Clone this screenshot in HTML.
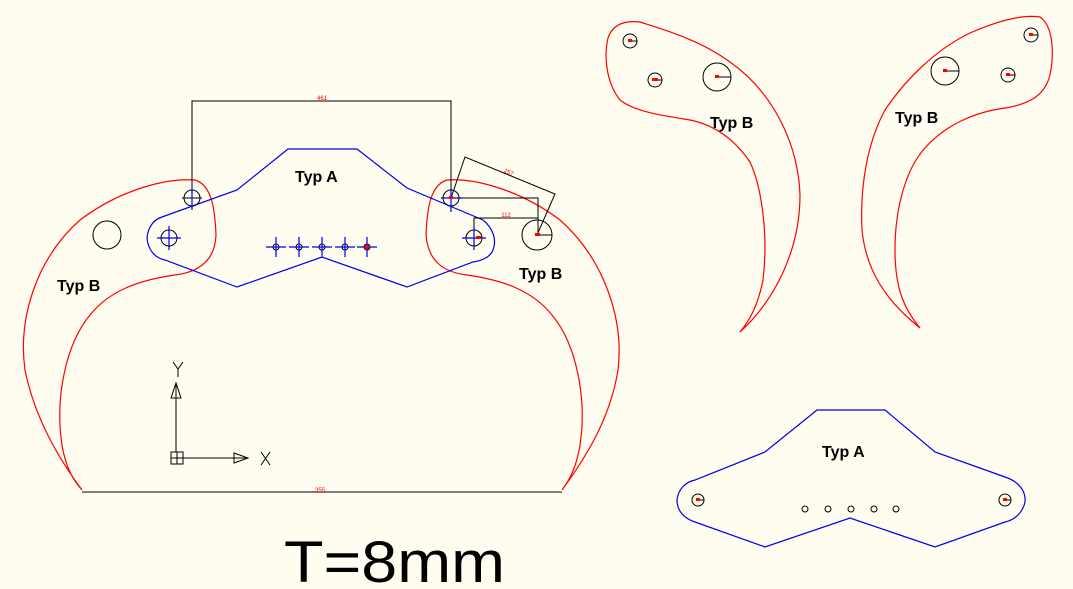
<!DOCTYPE html>
<html><head><style>html,body{margin:0;padding:0;background:#fffcf0;}svg{display:block}</style></head>
<body>
<svg width="1073" height="589" viewBox="0 0 1073 589" xmlns="http://www.w3.org/2000/svg" font-family="Liberation Sans, sans-serif">
<rect width="1073" height="589" fill="#fffcf0"/>
<g fill="none" stroke="#f00" stroke-width="1.2">
<path d="M82,490 C60,460 35,420 25,370 C18,320 35,260 80,220 C120,190 165,178 195,180 C212,185 215,210 216,235 C215,260 200,272 175,275 C140,280 110,290 90,315 C65,345 55,400 62,445 C66,470 75,482 82,490 Z"/>
<path d="M562,490 C584,460 610,420 618,370 C624,320 605,260 560,220 C520,190 475,178 447,180 C430,185 427,210 426,235 C428,260 442,272 467,275 C502,280 532,290 552,315 C577,345 587,400 580,445 C576,470 568,482 562,490 Z"/>
<path d="M740,332 C775,300 800,250 800,195 C798,140 770,90 730,62 C700,40 665,30 640,22 C622,20 612,26 608,38 C603,60 608,85 620,100 C635,112 665,116 690,120 C715,125 735,140 750,162 C763,190 768,240 763,280 C758,305 750,320 740,332 Z"/>
<path d="M920,328 C905,310 895,290 895,250 C895,210 905,170 925,148 C945,125 975,112 1005,108 C1030,104 1045,95 1050,75 C1055,50 1052,25 1040,17 C1020,14 995,22 970,33 C935,50 905,80 885,110 C866,145 860,190 862,230 C866,270 885,300 920,328 Z"/>
</g>
<g fill="none" stroke="#0000ee" stroke-width="1.2">
<path d="M288,149 L357,149 L407,188 L483,220 C493,228 497,240 493,250 C490,258 480,261 473,262 L407,287 L322,257 L237,287 L165,260 C155,258 148,250 147,238 C148,226 155,219 162,217 L237,190 Z"/>
<path d="M817,410 L885,410 L935,452 L1005,477 C1020,482 1026,492 1025,502 C1023,512 1015,520 1005,522 L935,547 L850,518 L765,547 L695,522 C683,518 677,510 677,500 C678,490 685,482 695,480 L765,452 Z"/>
</g>
<g fill="none" stroke="#000" stroke-width="1">
<path d="M192,208 V101 H451 V208"/>
<path d="M82,492 H562"/>
<path d="M451,198 L465,157 L555,194 L537,235"/>
<path d="M451,198 H538 V235"/>
<path d="M474,238 V218 H538"/>
<circle cx="192" cy="198" r="8"/>
<circle cx="451" cy="198" r="8"/>
<circle cx="169" cy="238" r="8"/>
<circle cx="474" cy="238" r="8"/>
<circle cx="107" cy="235" r="14"/>
<circle cx="537" cy="235" r="15"/>
<path d="M537,235 H552"/>
<circle cx="276" cy="247" r="3"/><circle cx="299" cy="247" r="3"/><circle cx="322" cy="247" r="3"/><circle cx="345" cy="247" r="3"/><circle cx="367" cy="247" r="3"/>
<circle cx="630" cy="41" r="7"/><circle cx="655" cy="80" r="7"/><circle cx="717" cy="77" r="14"/>
<path d="M630,41 H637 M655,80 H662 M717,77 H731"/>
<circle cx="1031" cy="35" r="7"/><circle cx="1008" cy="75" r="7"/><circle cx="945" cy="71" r="14"/>
<path d="M1031,35 H1038 M1008,75 H1015 M945,71 H959"/>
<circle cx="698" cy="500" r="6"/><circle cx="1005" cy="500" r="6"/>
<path d="M698,500 H704 M1005,500 H1011"/>
<circle cx="805" cy="509" r="3"/><circle cx="828" cy="509" r="3"/><circle cx="851" cy="509" r="3"/><circle cx="874" cy="509" r="3"/><circle cx="896" cy="509" r="3"/>
<path d="M182,198 H202 M192,188 V208 M441,198 H461"/>
<path d="M176,452 V385 M182,458 H248"/>
<path d="M171,398 L176,383 L181,398 Z M234,453 L248,458 L234,463 Z"/>
<rect x="171" y="452" width="12" height="12"/><path d="M177,452 V464 M171,458 H183"/>
<path d="M173,362 L178,369 L183,362 M178,369 V377"/>
<path d="M261,452 L270,465 M270,452 L261,465"/>
</g>
<g stroke="#0000ee" stroke-width="1.2">
<path d="M192,188 V210 M441,198 H463 M451,188 V212"/>
<path d="M157,238 H181 M169,226 V250 M462,238 H486 M474,226 V250"/>
<path d="M266,247 H286 M276,237 V257 M289,247 H309 M299,237 V257 M312,247 H332 M322,237 V257 M335,247 H355 M345,237 V257 M357,247 H377 M367,237 V257"/>
</g>
<g fill="#f00">
<rect x="535" y="233" width="5" height="3"/><rect x="476" y="236" width="5" height="3"/><rect x="449" y="196" width="4" height="3"/><rect x="365" y="245" width="4" height="4"/>
<rect x="628" y="39" width="4" height="3"/><rect x="652" y="78" width="6" height="3"/><rect x="715" y="75" width="4" height="3"/>
<rect x="1029" y="33" width="4" height="3"/><rect x="1006" y="73" width="4" height="3"/><rect x="943" y="69" width="4" height="3"/>
<rect x="696" y="498" width="4" height="3"/><rect x="1003" y="498" width="4" height="3"/>
</g>
<g fill="#f00" font-size="6" text-anchor="middle">
<text x="322" y="100">461</text><text x="320" y="492">355</text><text x="508" y="174" transform="rotate(22 508 174)">257</text><text x="506" y="217">112</text>
</g>
<g font-weight="bold" font-size="16" fill="#000">
<text x="295" y="182">Typ A</text>
<text x="57" y="291">Typ B</text>
<text x="519" y="279">Typ B</text>
<text x="710" y="128">Typ B</text>
<text x="895" y="123">Typ B</text>
<text x="822" y="457">Typ A</text>
</g>
<text x="284" y="582" font-size="58" textLength="221" lengthAdjust="spacingAndGlyphs" fill="#000">T=8mm</text>
</svg>
</body></html>
